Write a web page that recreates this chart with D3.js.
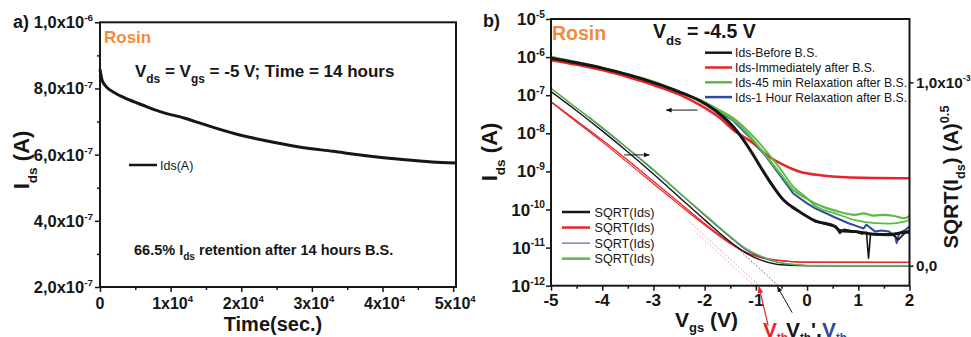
<!DOCTYPE html>
<html>
<head>
<meta charset="utf-8">
<script src="https://cdn.jsdelivr.net/npm/d3@7"></script>
<style>
body { margin: 0; background: #fff; }
text { font-family: "Liberation Sans", Arial, Helvetica, sans-serif; white-space: pre; }
</style>
</head>
<body>
<svg id="chart" width="971" height="337"></svg>
<script>
// ---- panel a) : retention, Ids vs time ----
const retTime = [0, 300, 900, 2000, 4000, 6000, 8500, 12000, 14500, 19000, 23500, 28000, 33000, 38000, 42500, 47000, 50300];
const retIds = [8.58e-7, 8.25e-7, 8.05e-7, 7.88e-7, 7.67e-7, 7.5e-7, 7.3e-7, 7.1e-7, 6.93e-7, 6.64e-7, 6.42e-7, 6.24e-7, 6.1e-7, 5.96e-7, 5.86e-7, 5.78e-7, 5.75e-7];
const timeTicks = [0, 1e4, 2e4, 3e4, 4e4, 5e4];
const timeTickLabels = [["0", ""], ["1x10", "4"], ["2x10", "4"], ["3x10", "4"], ["4x10", "4"], ["5x10", "4"]];
const retIdsTicks = [2e-7, 4e-7, 6e-7, 8e-7, 1e-6];
const retIdsTickLabels = [["2,0x10", "-7"], ["4,0x10", "-7"], ["6,0x10", "-7"], ["8,0x10", "-7"], ["1,0x10", "-6"]];

// ---- panel b) : transfer curves, [Vgs, log10(Ids)] ----
const idsBefore = [[-5,-6.03],[-4.5,-6.15],[-4,-6.29],[-3.5,-6.46],[-3,-6.67],[-2.5,-6.91],[-2.09,-7.15],[-1.7,-7.5],[-1.44,-7.83],[-1.24,-8.18],[-1.05,-8.57],[-0.85,-9.01],[-0.66,-9.4],[-0.46,-9.75],[-0.2,-10.01],[0.16,-10.3],[0.55,-10.45],[0.64,-10.55],[0.94,-10.58],[1.3,-10.65],[1.6,-10.66],[1.94,-10.6],[2,-10.6]];
const idsBeforeRev = [[-0.3,-9.95],[0.16,-10.32],[0.35,-10.38],[0.55,-10.45],[0.64,-10.63],[0.72,-10.52],[0.94,-10.58],[1.07,-10.64],[1.16,-10.6],[1.2,-11.28],[1.24,-10.64],[1.4,-10.67],[1.6,-10.64],[1.72,-10.7],[1.78,-10.8],[1.85,-10.7],[1.94,-10.58],[2,-10.55]];
const idsImmediate = [[-5,-6.08],[-4.5,-6.2],[-4,-6.34],[-3.5,-6.52],[-3,-6.73],[-2.5,-6.98],[-2.09,-7.26],[-1.7,-7.6],[-1.44,-7.91],[-1.05,-8.26],[-0.79,-8.57],[-0.46,-8.83],[-0.14,-9.01],[0.19,-9.09],[0.84,-9.16],[2,-9.18]];
const idsRelax45 = [[-5,-5.99],[-4.5,-6.13],[-4,-6.28],[-3.5,-6.45],[-3,-6.64],[-2.41,-6.95],[-2.09,-7.13],[-1.76,-7.39],[-1.44,-7.65],[-1.05,-8.18],[-0.79,-8.61],[-0.53,-9.05],[-0.27,-9.49],[0,-9.72],[0.16,-9.84],[0.55,-10.03],[0.94,-10.14],[1.1,-10.1],[1.3,-10.16],[1.52,-10.14],[1.7,-10.17],[1.91,-10.23],[2,-10.17]];
const idsRelax45Rev = [[-2.5,-6.92],[-2.09,-7.12],[-1.76,-7.35],[-1.44,-7.6],[-1.05,-8.08],[-0.79,-8.48],[-0.53,-8.92],[-0.27,-9.4],[0,-9.7],[0.16,-9.91],[0.55,-10.1],[0.94,-10.28],[1.33,-10.36],[1.6,-10.37],[1.9,-10.32],[2,-10.27]];
const idsRelax1h = [[-5,-6.0],[-4,-6.29],[-3,-6.65],[-2.41,-6.96],[-2.09,-7.14],[-1.76,-7.4],[-1.44,-7.67],[-1.05,-8.2],[-0.79,-8.63],[-0.53,-9.1],[-0.27,-9.58],[0,-9.84],[0.16,-9.97],[0.55,-10.21],[0.81,-10.36],[1.0,-10.45],[1.1,-10.5],[1.16,-10.4],[1.33,-10.58],[1.45,-10.55],[1.6,-10.58],[1.72,-10.71],[1.75,-10.88],[1.8,-10.62],[1.9,-10.55],[2,-10.45]];

// [Vgs, SQRT(Ids) in 1e-3 A^0.5]
const sqrtBefore = [[-5,0.949],[-4.5,0.845],[-4,0.735],[-3.5,0.62],[-3,0.5],[-2.5,0.375],[-2,0.25],[-1.5,0.13],[-1.2,0.07],[-0.9,0.03],[-0.6,0.008],[-0.3,0.002],[0,0],[2,0]];
const sqrtImmediate = [[-5,0.894],[-4.5,0.79],[-4,0.685],[-3.5,0.575],[-3,0.46],[-2.5,0.345],[-2,0.23],[-1.5,0.125],[-1.2,0.075],[-0.9,0.045],[-0.6,0.03],[-0.3,0.022],[0,0.019],[2,0.018]];
const sqrtImmediateRev = [[-5,0.892],[-4.5,0.784],[-4,0.675],[-3.5,0.562],[-3,0.447],[-2.5,0.333],[-2,0.222],[-1.5,0.12],[-1.2,0.072],[-0.9,0.044],[-0.6,0.03],[-0.3,0.022],[0,0.019],[2,0.018]];
const sqrtRelax1h = [[-5,0.967],[-4,0.75],[-3,0.52],[-2,0.275],[-1.5,0.155],[-1.2,0.088],[-0.9,0.048],[-0.6,0.02],[-0.3,0.007],[0,0.001],[2,0]];
const sqrtRelax45 = [[-5,0.967],[-4.5,0.86],[-4,0.755],[-3.5,0.64],[-3,0.525],[-2.5,0.4],[-2,0.28],[-1.5,0.16],[-1.2,0.095],[-0.9,0.052],[-0.6,0.022],[-0.3,0.008],[0,0.002],[1,0],[2,0]];
const vthFitRed = [[-2.3,0.24],[-0.95,-0.105]];
const vthFitRed2 = [[-2.2,0.19],[-1.05,-0.105]];
const vthFitBlack = [[-1.5,0.13],[-0.58,-0.105]];

const vgsTicks = [-5, -4, -3, -2, -1, 0, 1, 2];
const decadeTicks = [-12, -11, -10, -9, -8, -7, -6, -5];
const sqrtTicks = [0, 1.0];
const sqrtTickLabels = [["0,0", ""], ["1,0x10", "-3"]];

const legendTop = ["Ids-Before B.S.", "Ids-Immediately after B.S.", "Ids-45 min Relaxation after B.S.", "Ids-1 Hour Relaxation after B.S."];
const legendBottom = ["SQRT(Ids)", "SQRT(Ids)", "SQRT(Ids)", "SQRT(Ids)"];

const C = { black: "#161616", red: "#e8252a", green: "#5db946", blue: "#2d4c9f", orange: "#f58a3c" };

const svg = d3.select("#chart");

// text with sub/superscript pieces
function rich(parent, x, y, parts, size, o = {}) {
	const t = parent.append("text")
		.attr("x", x).attr("y", y)
		.attr("font-size", size)
		.attr("font-weight", o.weight || "bold")
		.attr("fill", o.fill || C.black)
		.attr("text-anchor", o.anchor || "start");
	if (o.rotate) t.attr("transform", `rotate(${o.rotate},${x},${y})`);
	let shift = 0;
	parts.forEach((p) => {
		const [s, k] = typeof p === "string" ? [p, ""] : p;
		if (!s) return;
		const target = k === "sub" ? size * (o.sub || 0.36) : k === "sup" ? -size * 0.42 : 0;
		const ts = t.append("tspan").attr("dy", target - shift).text(s);
		if (k) ts.attr("font-size", size * (o.small || 0.66));
		shift = target;
	});
	return t;
}

// ================= panel a =================
const xA = d3.scaleLinear().domain([0, 50400]).range([100, 456]);
const yA = d3.scaleLinear().domain([2e-7, 1e-6]).range([287, 22.3]);
const gA = svg.append("g");

gA.append("path")
	.attr("d", d3.line().x((d, i) => xA(retTime[i])).y((d) => yA(d)).curve(d3.curveMonotoneX)(retIds))
	.attr("fill", "none")
	.attr("stroke", C.black)
	.attr("stroke-width", 3);

const tickStyle = (g) => {
	g.select(".domain").remove();
	g.selectAll("line").attr("stroke", C.black).attr("stroke-width", 1.5);
};

gA.append("g").attr("transform", `translate(0,${yA.range()[0]})`)
	.call(d3.axisBottom(xA).tickValues(timeTicks).tickSize(5).tickFormat(""))
	.call(tickStyle);
gA.append("g").attr("transform", `translate(0,${yA.range()[0]})`)
	.call(d3.axisBottom(xA).tickValues(d3.range(5000, 50000, 10000)).tickSize(3).tickFormat(""))
	.call(tickStyle);
gA.append("g").attr("transform", `translate(${xA.range()[0]},0)`)
	.call(d3.axisLeft(yA).tickValues(retIdsTicks).tickSize(5).tickFormat(""))
	.call(tickStyle);
gA.append("g").attr("transform", `translate(${xA.range()[0]},0)`)
	.call(d3.axisLeft(yA).tickValues([3e-7, 5e-7, 7e-7, 9e-7]).tickSize(3).tickFormat(""))
	.call(tickStyle);

gA.append("rect")
	.attr("x", xA.range()[0]).attr("y", yA.range()[1])
	.attr("width", xA.range()[1] - xA.range()[0])
	.attr("height", yA.range()[0] - yA.range()[1])
	.attr("fill", "none").attr("stroke", C.black).attr("stroke-width", 2);

timeTicks.forEach((v, i) => {
	rich(gA, xA(v) + (i ? 2 : 0), 309, [timeTickLabels[i][0], [timeTickLabels[i][1], "sup"]], 16, { anchor: "middle", small: 0.6 });
});
retIdsTicks.forEach((v, i) => {
	rich(gA, 93, yA(v) + 6, [retIdsTickLabels[i][0], [retIdsTickLabels[i][1], "sup"]], 16.5, { anchor: "end", small: 0.6 });
});

rich(gA, 13, 28, ["a)"], 18);
rich(gA, 273, 331, ["Time(sec.)"], 20, { anchor: "middle" });
rich(gA, 29, 160, ["I", ["ds", "sub"], " (A)"], 22, { anchor: "middle", rotate: -90, small: 0.62 });
rich(gA, 104, 43, ["Rosin"], 17, { fill: C.orange });
rich(gA, 135, 77, ["V", ["ds", "sub"], " = V", ["gs", "sub"], " = -5 V; Time = 14 hours"], 17, { small: 0.7 });
rich(gA, 134, 255, ["66.5% I", ["ds", "sub"], " retention after 14 hours B.S."], 14.5, { small: 0.7 });

gA.append("line").attr("x1", 129).attr("x2", 157).attr("y1", 165).attr("y2", 165)
	.attr("stroke", C.black).attr("stroke-width", 2.5);
rich(gA, 160, 169.5, ["Ids(A)"], 12.5, { weight: "normal" });

// ================= panel b =================
const xB = d3.scaleLinear().domain([-5, 2]).range([551, 909.5]);
const yL = d3.scaleLog().domain([1e-12, 1e-5]).range([285.7, 19]);
const yS = d3.scaleLinear().domain([-0.109, 1.345]).range([285.7, 19]);
const gB = svg.append("g");

gB.append("clipPath").attr("id", "clipB").append("rect")
	.attr("x", 551).attr("y", 19).attr("width", 358.5).attr("height", 266.7);
const plotB = gB.append("g").attr("clip-path", "url(#clipB)");

const logLine = d3.line().x((d) => xB(d[0])).y((d) => yL(10 ** d[1]));
const linLine = d3.line().x((d) => xB(d[0])).y((d) => yS(d[1]));

const drawCurve = (data, gen, color, w, dash) => {
	const p = plotB.append("path")
		.attr("d", gen(data))
		.attr("fill", "none")
		.attr("stroke", color)
		.attr("stroke-width", w)
		.attr("stroke-linejoin", "round");
	if (dash) p.attr("stroke-dasharray", dash);
};

// extrapolated threshold fits
drawCurve(vthFitRed, linLine, "#f08a8a", 1, "1.5,2");
drawCurve(vthFitRed2, linLine, "#f4a0a0", 1, "1.5,2");
drawCurve(vthFitBlack, linLine, "#555", 1, "1.5,2");

// SQRT curves (right axis)
drawCurve(sqrtImmediateRev, linLine.curve(d3.curveMonotoneX), C.red, 1.2);
drawCurve(sqrtImmediate, linLine, C.red, 1.3);
drawCurve(sqrtRelax1h, linLine, C.blue, 1.2);
drawCurve(sqrtBefore, linLine, C.black, 1.4);
drawCurve(sqrtRelax45, linLine, C.green, 1.4);

// Ids curves (left axis)
drawCurve(idsImmediate, logLine.curve(d3.curveMonotoneX), C.red, 2.6);
drawCurve(idsRelax1h, logLine.curve(d3.curveLinear), C.blue, 2);
drawCurve(idsRelax45Rev, logLine.curve(d3.curveMonotoneX), C.green, 1.8);
drawCurve(idsRelax45, logLine, C.green, 2.2);
drawCurve(idsBeforeRev, logLine.curve(d3.curveLinear), C.black, 1.6);
drawCurve(idsBefore, logLine.curve(d3.curveMonotoneX), C.black, 3);

// axes ticks
gB.append("g").attr("transform", `translate(0,${yL.range()[0]})`)
	.call(d3.axisBottom(xB).tickValues(vgsTicks).tickSize(5).tickFormat(""))
	.call(tickStyle);
gB.append("g").attr("transform", `translate(0,${yL.range()[0]})`)
	.call(d3.axisBottom(xB).tickValues(d3.range(-4.5, 2, 1)).tickSize(3).tickFormat(""))
	.call(tickStyle);
gB.append("g").attr("transform", `translate(${xB.range()[0]},0)`)
	.call(d3.axisLeft(yL).tickValues(decadeTicks.map((e) => 10 ** e)).tickSize(5).tickFormat(""))
	.call(tickStyle);
gB.append("g").attr("transform", `translate(${xB.range()[1]},0)`)
	.call(d3.axisRight(yS).tickValues(sqrtTicks).tickSize(4).tickFormat(""))
	.call(tickStyle);

gB.append("rect")
	.attr("x", xB.range()[0]).attr("y", yL.range()[1])
	.attr("width", xB.range()[1] - xB.range()[0])
	.attr("height", yL.range()[0] - yL.range()[1])
	.attr("fill", "none").attr("stroke", C.black).attr("stroke-width", 2);

vgsTicks.forEach((v) => {
	rich(gB, xB(v), 306, [String(v)], 17, { anchor: "middle" });
});
decadeTicks.forEach((e) => {
	rich(gB, 545, yL(10 ** e) + 6, ["10", [String(e), "sup"]], 17, { anchor: "end", small: 0.6 });
});
sqrtTicks.forEach((v, i) => {
	rich(gB, 916, yS(v) + 5.5, [sqrtTickLabels[i][0], [sqrtTickLabels[i][1], "sup"]], 15.3, { small: 0.58 });
});

rich(gB, 483, 27, ["b)"], 18);
rich(gB, 675, 327, ["V", ["gs", "sub"], " (V)"], 21, { small: 0.62, sub: 0.22 });
rich(gB, 497, 152, ["I", ["ds", "sub"], " (A)"], 22, { anchor: "middle", rotate: -90, small: 0.62 });
rich(gB, 958, 177, ["SQRT(I", ["ds", "sub"], ") (A)", ["0.5", "sup"]], 20.5, { anchor: "middle", rotate: -90, small: 0.62 });
rich(gB, 552, 40, ["Rosin"], 19.5, { fill: C.orange });
rich(gB, 653, 38, ["V", ["ds", "sub"], " = -4.5 V"], 19.5, { small: 0.68 });

// threshold voltage annotations below the axis (subscripts run off the bottom edge as in the source)
rich(gB, 763, 337, ["V", ["th", "sub"]], 21, { fill: C.red, small: 0.55, sub: 0.2 });
rich(gB, 786, 337, ["V", ["th", "sub"], "',"], 21, { small: 0.55, sub: 0.2 });
rich(gB, 822, 337, ["V", ["th", "sub"]], 21, { fill: C.blue, small: 0.55, sub: 0.2 });

const defs = svg.append("defs");
[["arrRed", C.red], ["arrBlk", C.black]].forEach(([id, col]) => {
	defs.append("marker").attr("id", id)
		.attr("viewBox", "0 0 10 10").attr("refX", 9).attr("refY", 5)
		.attr("markerWidth", 6).attr("markerHeight", 6).attr("orient", "auto-start-reverse")
		.append("path").attr("d", "M0,1L10,5L0,9z").attr("fill", col);
});
const yBot = yL.range()[0];
gB.append("line").attr("x1", xB(-0.76)).attr("y1", yBot + 40).attr("x2", xB(-0.94)).attr("y2", yBot + 1)
	.attr("stroke", C.red).attr("stroke-width", 1.2).attr("marker-end", "url(#arrRed)");
gB.append("line").attr("x1", xB(-0.29)).attr("y1", yBot + 27).attr("x2", xB(-0.58)).attr("y2", yBot + 1)
	.attr("stroke", C.black).attr("stroke-width", 1).attr("marker-end", "url(#arrBlk)");

// axis pointer arrows inside the plot
gB.append("line").attr("x1", xB(-2.14)).attr("x2", xB(-2.75)).attr("y1", yL(10 ** -7.39)).attr("y2", yL(10 ** -7.39))
	.attr("stroke", C.black).attr("stroke-width", 1).attr("marker-end", "url(#arrBlk)");
gB.append("line").attr("x1", xB(-3.57)).attr("x2", xB(-3.08)).attr("y1", yS(0.604)).attr("y2", yS(0.604))
	.attr("stroke", C.black).attr("stroke-width", 1).attr("marker-end", "url(#arrBlk)");

// legends
const legTopColors = [C.black, C.red, C.green, C.blue];
legendTop.forEach((s, i) => {
	const y = 52.7 + i * 14.8;
	gB.append("line").attr("x1", 705).attr("x2", 732).attr("y1", y).attr("y2", y)
		.attr("stroke", legTopColors[i]).attr("stroke-width", 2.5);
	rich(gB, 735, y + 4.5, [s], 12.2, { weight: "normal" });
});
const legBotColors = [C.black, C.red, C.blue, C.green];
const legBotWidths = [2.5, 2.5, 1, 2.5];
legendBottom.forEach((s, i) => {
	const y = 212 + i * 15.55;
	gB.append("line").attr("x1", 562).attr("x2", 590).attr("y1", y).attr("y2", y)
		.attr("stroke", legBotColors[i]).attr("stroke-width", legBotWidths[i]);
	rich(gB, 594.5, y + 4.5, [s], 12.6, { weight: "normal" });
});
</script>
</body>
</html>
